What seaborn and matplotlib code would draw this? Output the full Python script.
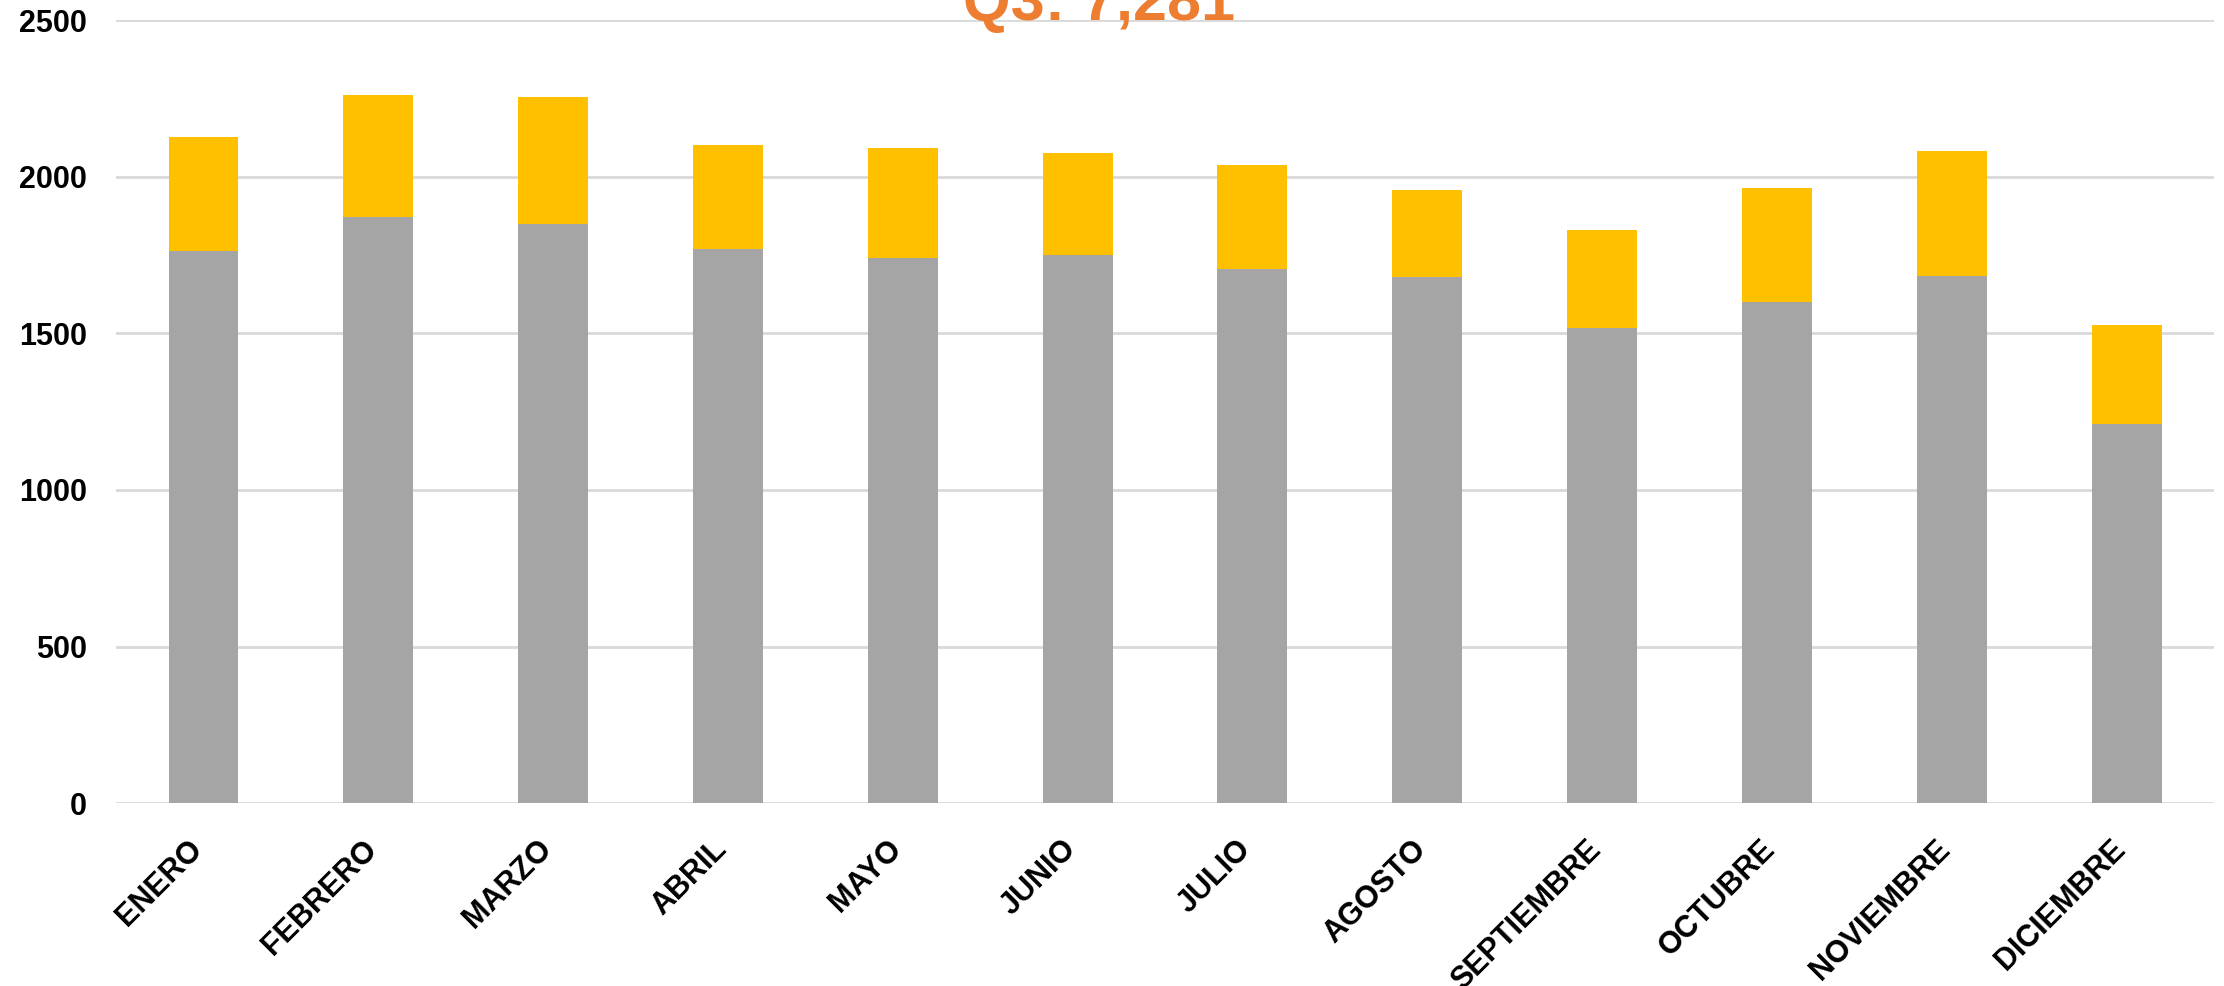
import pandas as pd
import matplotlib.pyplot as plt
import seaborn as sns

meses = ["ENERO", "FEBRERO", "MARZO", "ABRIL", "MAYO", "JUNIO", "JULIO",
         "AGOSTO", "SEPTIEMBRE", "OCTUBRE", "NOVIEMBRE", "DICIEMBRE"]
base = [1764, 1871, 1850, 1768, 1740, 1751, 1705, 1679, 1518, 1599, 1683, 1212]
extra = [362, 390, 403, 333, 351, 324, 333, 280, 311, 366, 400, 316]
titulo = "Q3: 7,281"

df = pd.DataFrame({"mes": meses, "base": base, "extra": extra})
df["total"] = df["base"] + df["extra"]

sns.set_theme(style="white")
plt.rcParams["font.family"] = ["Liberation Sans", "DejaVu Sans"]

fig = plt.figure(figsize=(22.24, 9.86), dpi=100)
ax = fig.add_axes([0.0522, 0.1853, 0.9433, 0.7944])

# yellow on top: draw the total first, then the grey part over it
sns.barplot(data=df, x="mes", y="total", color="#FFC000", saturation=1,
            width=0.4, linewidth=0, ax=ax, zorder=3)
sns.barplot(data=df, x="mes", y="base", color="#A5A5A5", saturation=1,
            width=0.4, linewidth=0, ax=ax, zorder=3)

ax.set_ylim(0, 2500)
ax.set_xlim(-0.5, len(meses) - 0.5)
ax.set_yticks([0, 500, 1000, 1500, 2000, 2500])
ax.yaxis.grid(True, color="#D9D9D9", linewidth=2)
ax.set_axisbelow(True)
for s in ax.spines.values():
    s.set_visible(False)

ax.set_xlabel("")
ax.set_ylabel("")
ax.tick_params(axis="both", length=0)
ax.tick_params(axis="y", pad=21)
ax.tick_params(axis="x", pad=34)
for lab in ax.get_yticklabels():
    lab.set_fontsize(22)
    lab.set_fontweight("bold")
    lab.set_color("black")
for lab in ax.get_xticklabels():
    lab.set_fontsize(22)
    lab.set_fontweight("bold")
    lab.set_color("black")
    lab.set_rotation(45)
    lab.set_ha("right")
    lab.set_va("baseline")
    lab.set_rotation_mode("anchor")

fig.text(0.494, 1 - 20 / 986, titulo, ha="center", va="baseline",
         fontsize=44, fontweight="bold", color="#ED7D31")

fig.savefig("out.png", dpi=100)
plt.close(fig)
